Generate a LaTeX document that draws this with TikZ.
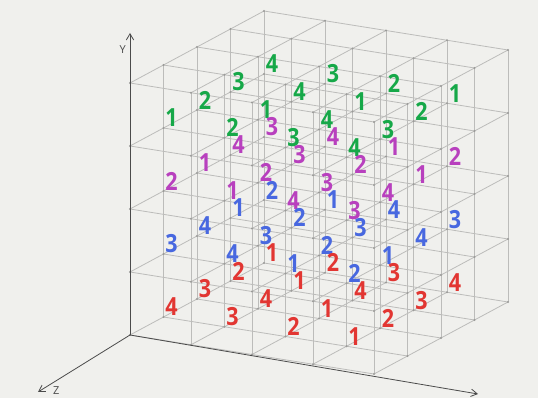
\documentclass[tikz,border=0pt]{standalone}
\usepackage{fontspec}
\setmainfont{Open Sans}
\newfontfamily\numfont[FakeStretch=0.86]{Open Sans}
\usetikzlibrary{arrows.meta, positioning}

\definecolor{bgcol}{RGB}{240,240,237}
\definecolor{gridcol}{RGB}{188,188,186}
\definecolor{dotcol}{RGB}{155,155,153}
\definecolor{axiscol}{RGB}{75,75,75}
\definecolor{numgreen}{RGB}{22,168,72}
\definecolor{numpink}{RGB}{184,64,190}
\definecolor{numblue}{RGB}{72,104,224}
\definecolor{numred}{RGB}{226,54,50}

\begin{document}
\begin{tikzpicture}[
  x={(61pt,-9.75pt)}, y={(0pt,63pt)}, z={(33.5pt,18pt)},
  gridline/.style={draw=gridcol, line width=0.8pt},
  axis/.style={draw=axiscol, line width=0.8pt, -{Straight Barb[length=2.2mm, width=2.6mm]}},
  axislabel/.style={font=\fontsize{11}{11}\selectfont, text=axiscol, inner sep=1pt},
  num/.style={font=\numfont\fontsize{25}{25}\selectfont\bfseries, inner sep=0pt, xshift=8pt, yshift=10pt}
]
% page and background
\fill[bgcol] (-130pt,-63pt) rectangle (408pt,335pt);
\useasboundingbox (-130pt,-63pt) rectangle (408pt,335pt);

% lattice lines
\foreach \a in {0,...,4}
  \foreach \b in {0,...,4} {
    \draw[gridline] (0,\a,\b) -- (4,\a,\b);
    \draw[gridline] (\a,0,\b) -- (\a,4,\b);
    \draw[gridline] (\a,\b,0) -- (\a,\b,4);
  }
\foreach \a in {0,...,4}
  \foreach \b in {0,...,4}
    \foreach \c in {0,...,4}
      \fill[dotcol] (\a,\b,\c) circle (1.1pt);

% axes
\coordinate (origin) at (0,0,0);
\coordinate (ytip) at (0pt,302pt);
\coordinate (xtip) at (348pt,-59pt);
\coordinate (ztip) at (-92pt,-57pt);
\draw[axis] (origin) -- (ytip);
\draw[axis] (origin) -- (xtip);
\draw[axis] (origin) -- (ztip);
\node[axislabel, left=3pt of ytip, yshift=-17pt] (ylab) {Y};
\node[axislabel, right=14pt of ztip, yshift=1pt] (zlab) {Z};

% numbers, layer by layer (rows from back z=4 to front z=1)
\foreach \v [count=\i from 0] in {4,3,2,1, 3,4,1,2, 2,1,4,3, 1,2,3,4} {
  \pgfmathtruncatemacro\cx{mod(\i,4)}
  \pgfmathtruncatemacro\cz{4-int(\i/4)}
  \node[num, text=numgreen] (g\cx\cz) at (\cx,3,\cz) {\v};
}
\foreach \v [count=\i from 0] in {3,4,1,2, 4,3,2,1, 1,2,3,4, 2,1,4,3} {
  \pgfmathtruncatemacro\cx{mod(\i,4)}
  \pgfmathtruncatemacro\cz{4-int(\i/4)}
  \node[num, text=numpink] (p\cx\cz) at (\cx,2,\cz) {\v};
}
\foreach \v [count=\i from 0] in {2,1,4,3, 1,2,3,4, 4,3,2,1, 3,4,1,2} {
  \pgfmathtruncatemacro\cx{mod(\i,4)}
  \pgfmathtruncatemacro\cz{4-int(\i/4)}
  \node[num, text=numblue] (b\cx\cz) at (\cx,1,\cz) {\v};
}
\foreach \v [count=\i from 0] in {1,2,3,4, 2,1,4,3, 3,4,1,2, 4,3,2,1} {
  \pgfmathtruncatemacro\cx{mod(\i,4)}
  \pgfmathtruncatemacro\cz{4-int(\i/4)}
  \node[num, text=numred] (r\cx\cz) at (\cx,0,\cz) {\v};
}
\end{tikzpicture}
\end{document}
